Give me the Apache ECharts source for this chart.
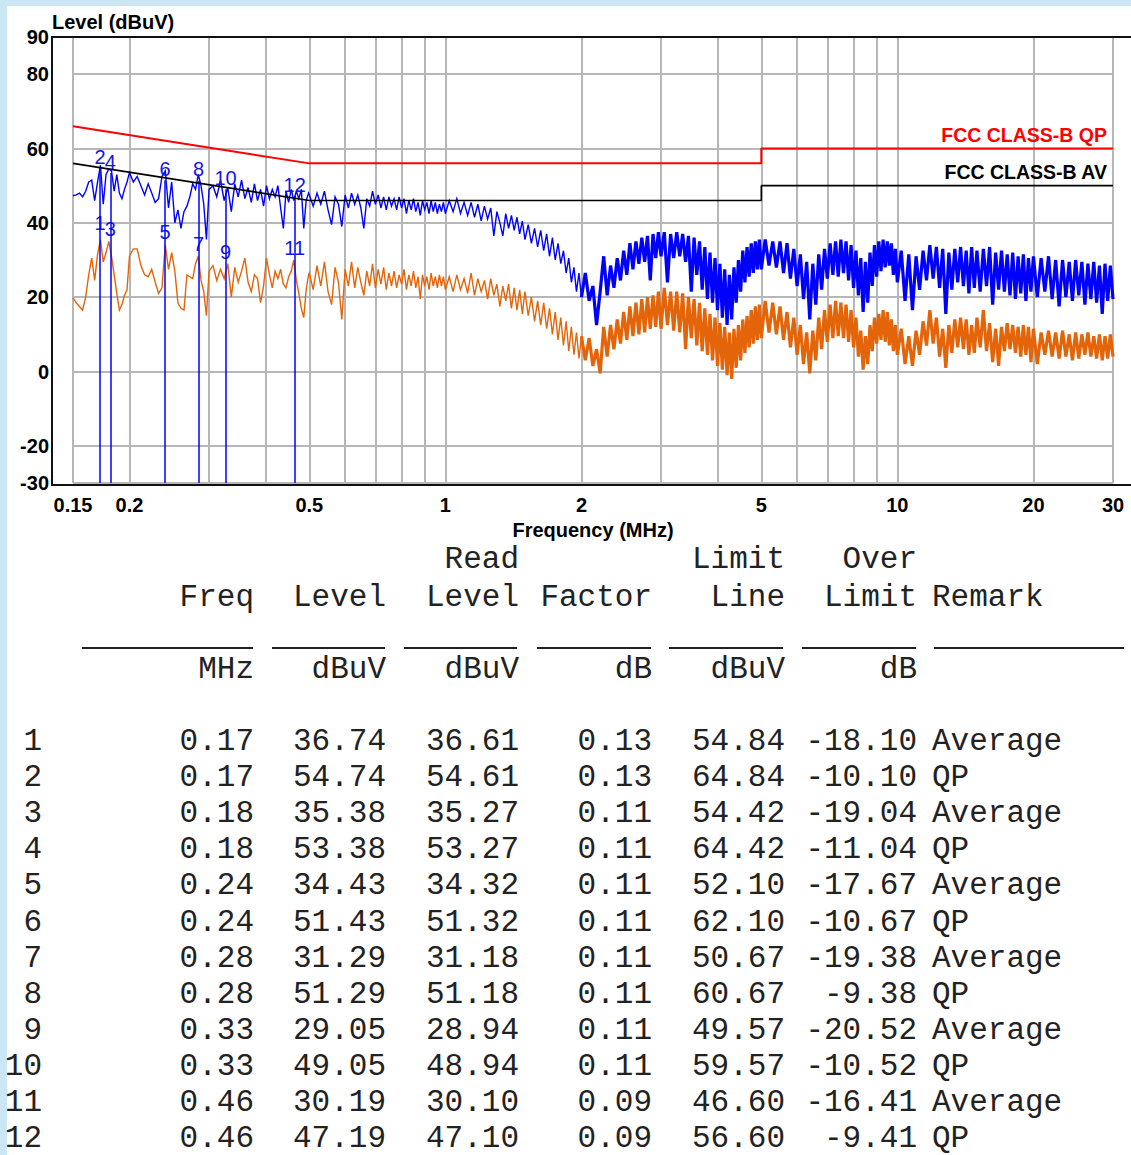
<!DOCTYPE html>
<html>
<head>
<meta charset="utf-8">
<script src="https://cdn.jsdelivr.net/npm/echarts@6/dist/echarts.min.js"></script>
<style>
  html, body { margin: 0; padding: 0; width: 1131px; height: 1155px; overflow: hidden; background: #cbe7f6; }
  #panel { position: absolute; left: 7px; top: 6px; width: 1124px; height: 1149px; background: #ffffff; }
  #chart { position: absolute; left: 0; top: 0; width: 1131px; height: 545px; }
  #table { position: absolute; left: 0; top: 0; width: 1131px; height: 1155px; }
  .tc { position: absolute; height: 36px; line-height: 36px; font-family: "Liberation Mono", monospace; font-size: 31px; color: #222; white-space: pre; }
  .ul { position: absolute; height: 2px; background: #222; }
</style>
</head>
<body>
<div id="panel"></div>
<div id="chart"></div>
<div id="table"></div>
<script>
// ---------------- data ----------------
const freqMHz = [
  0.15,0.1525,0.155,0.1575,0.16,0.1625,0.165,0.1675,0.17,0.1725,0.175,0.1775,0.18,0.1825,0.185,0.1875,0.19,0.1925,0.195,0.1975,
  0.2,0.204,0.208,0.212,0.216,0.22,0.224,0.228,0.232,0.236,0.24,0.244,0.248,0.252,0.256,0.26,0.264,0.268,0.272,0.276,0.28,0.284,0.288,0.292,0.296,
  0.3,0.306,0.312,0.318,0.324,0.33,0.336,0.342,0.348,0.354,0.36,0.366,0.372,0.378,0.384,0.39,0.396,0.402,0.408,0.414,0.42,0.426,0.432,0.438,0.444,0.45,0.456,0.462,0.468,0.474,0.48,0.486,0.492,0.498,
  0.5,0.51,0.52,0.53,0.54,0.55,0.56,0.57,0.58,0.59,0.6,0.61,0.62,0.63,0.64,0.65,0.66,0.67,0.68,0.69,0.7,0.71,0.72,0.73,0.74,0.75,0.76,0.77,0.78,0.79,0.8,0.81,0.82,0.83,0.84,0.85,0.86,0.87,0.88,0.89,0.9,0.91,0.92,0.93,0.94,0.95,0.96,0.97,0.98,0.99,
  1,1.02,1.04,1.06,1.08,1.1,1.12,1.14,1.16,1.18,1.2,1.22,1.24,1.26,1.28,1.3,1.32,1.34,1.36,1.38,1.4,1.42,1.44,1.46,1.48,
  1.5,1.525,1.55,1.575,1.6,1.625,1.65,1.675,1.7,1.725,1.75,1.775,1.8,1.825,1.85,1.875,1.9,1.925,1.95,1.975,
  2,2.04,2.08,2.12,2.16,2.2,2.24,2.28,2.32,2.36,2.4,2.44,2.48,2.52,2.56,2.6,2.64,2.68,2.72,2.76,2.8,2.84,2.88,2.92,2.96,
  3,3.05,3.1,3.15,3.2,3.25,3.3,3.35,3.4,3.45,3.5,3.55,3.6,3.65,3.7,3.75,3.8,3.85,3.9,3.95,4,4.05,4.1,4.15,4.2,4.25,4.3,4.35,4.4,4.45,4.5,4.55,4.6,4.65,4.7,4.75,4.8,4.85,4.9,4.95,
  5,5.1,5.2,5.3,5.4,5.5,5.6,5.7,5.8,5.9,6,6.1,6.2,6.3,6.4,6.5,6.6,6.7,6.8,6.9,7,7.1,7.2,7.3,7.4,7.5,7.6,7.7,7.8,7.9,8,8.1,8.2,8.3,8.4,8.5,8.6,8.7,8.8,8.9,9,9.1,9.2,9.3,9.4,9.5,9.6,9.7,9.8,9.9,
  10,10.2,10.4,10.6,10.8,11,11.2,11.4,11.6,11.8,12,12.2,12.4,12.6,12.8,13,13.2,13.4,13.6,13.8,14,14.2,14.4,14.6,14.8,
  15,15.25,15.5,15.75,16,16.25,16.5,16.75,17,17.25,17.5,17.75,18,18.25,18.5,18.75,19,19.25,19.5,19.75,
  20,20.4,20.8,21.2,21.6,22,22.4,22.8,23.2,23.6,24,24.4,24.8,25.2,25.6,26,26.4,26.8,27.2,27.6,28,28.4,28.8,29.2,29.6,30
];
// peak (QP scan) trace, dBuV
const peakLevel = [
  47.3,47.5,48.0,47.0,48.5,51.0,51.5,46.0,51.0,55.5,45.0,53.0,54.5,54.0,48.5,53.0,48.0,46.5,49.0,51.0,
  53.5,51.0,52.5,50.0,47.5,50.5,48.0,45.5,46.5,52.5,54.0,44.0,51.0,40.0,43.5,38.5,43.0,44.5,47.0,50.5,49.0,53.0,50.0,45.0,35.5,
  49.0,50.0,47.0,51.5,46.0,49.5,43.0,50.5,47.0,51.5,46.5,49.5,45.5,50.5,46.0,49.0,44.5,50.0,46.5,49.0,47.0,50.0,44.0,38.5,48.5,45.5,49.0,46.0,48.5,46.5,49.0,38.5,46.0,48.0,
  47.5,44.5,48.0,45.0,48.5,43.5,39.5,47.0,45.0,39.0,47.5,44.0,48.0,45.0,47.5,44.0,38.5,46.5,44.5,48.5,45.0,47.5,44.0,47.0,43.5,47.0,44.5,46.5,43.5,47.0,44.0,46.5,42.5,46.0,43.5,46.5,43.0,45.5,42.0,46.0,43.5,45.5,42.5,46.0,43.0,45.5,42.5,45.0,43.0,45.5,
  42.5,46.0,43.0,46.5,42.5,45.5,42.0,45.5,41.5,45.0,40.5,44.5,41.0,44.0,36.5,43.0,40.0,36.5,42.5,38.5,42.0,38.0,41.5,37.0,40.5,
  35.5,39.5,34.5,38.5,33.5,38.0,32.5,37.0,31.0,36.0,30.0,34.5,29.0,32.5,26.5,30.5,24.0,28.0,21.5,26.5,
  20.0,26.5,19.0,23.0,12.5,21.5,31.0,20.5,28.5,22.5,30.5,24.5,32.5,26.0,34.5,27.5,35.0,29.0,36.0,29.5,36.5,24.5,37.0,30.5,37.5,
  31.0,37.5,24.0,37.0,30.5,37.5,31.0,37.0,29.5,36.5,21.5,36.0,26.0,35.0,22.0,33.5,19.5,32.0,18.5,30.5,16.5,29.0,14.5,27.5,12.5,26.0,14.0,28.0,18.5,30.0,21.5,32.5,24.0,33.5,25.5,34.5,26.5,35.0,27.5,35.5,
  27.5,35.5,28.5,35.0,28.0,35.0,26.5,34.5,25.0,33.0,23.0,31.5,19.5,29.5,14.0,29.0,18.0,31.5,22.0,33.0,25.0,34.5,26.0,35.0,25.5,35.5,26.5,35.0,24.5,34.0,22.5,32.5,20.5,30.5,16.0,29.5,18.5,32.0,23.0,34.0,25.5,35.0,27.0,35.5,28.0,35.0,28.5,34.5,26.0,33.0,
  24.0,32.5,19.0,31.5,16.5,31.0,22.0,32.5,24.5,34.0,25.0,33.5,22.5,33.0,15.5,32.0,22.0,33.0,24.0,33.5,23.0,32.5,21.0,33.5,22.5,
  32.5,21.5,33.0,23.0,33.5,18.0,32.0,22.0,32.5,21.5,31.5,20.5,32.0,19.5,31.0,21.0,31.5,19.0,30.5,21.5,
  31.0,20.0,30.5,21.5,31.0,19.5,30.0,17.5,30.0,20.0,29.5,19.0,30.0,20.5,29.5,18.0,29.0,19.5,29.5,18.5,28.5,15.5,29.0,19.0,28.5,19.5
];
// average trace, dBuV
const avgLevel = [
  19.8,18.5,17.5,16.5,20.0,26.0,30.5,24.5,31.5,35.5,29.5,32.0,35.0,31.0,26.0,21.0,16.5,18.0,20.5,22.0,
  31.0,33.0,33.0,28.5,26.0,25.5,27.5,24.0,21.0,22.5,34.0,27.5,32.0,27.0,18.4,17.0,16.5,26.0,25.5,25.0,29.0,31.0,24.5,21.5,15.0,
  27.0,28.5,24.5,27.5,25.0,29.0,20.0,28.0,24.0,27.0,30.5,24.0,21.5,26.0,25.0,18.5,23.0,30.5,26.0,22.5,27.0,25.0,27.5,23.5,22.5,25.5,27.0,30.0,24.5,21.0,17.0,14.5,22.0,26.0,
  26.5,22.0,28.5,23.0,29.5,21.5,18.0,28.0,24.0,14.0,27.5,23.0,29.5,22.5,28.0,24.0,20.5,27.0,23.0,29.0,22.5,27.5,23.5,28.0,22.0,26.5,23.0,27.0,22.5,26.0,23.5,27.5,22.0,26.0,23.0,27.0,22.5,25.5,19.5,26.0,23.0,25.5,22.0,26.5,23.0,25.5,22.5,26.0,23.0,25.5,
  22.0,25.5,21.5,26.0,22.0,25.0,21.0,26.5,20.5,25.0,21.5,24.5,19.5,25.0,20.5,23.5,17.5,23.0,19.0,23.5,17.0,22.5,16.5,22.0,15.5,
  21.5,15.0,20.0,13.5,19.0,12.5,18.5,11.5,17.0,10.0,16.0,8.5,14.5,7.0,13.5,5.5,12.0,4.5,10.5,3.5,
  9.5,3.0,9.0,1.5,6.0,-0.5,12.0,4.0,12.5,6.0,14.0,7.5,16.0,8.5,17.5,9.5,18.5,10.0,19.5,10.5,20.0,11.5,20.5,12.0,21.5,
  11.5,22.5,12.5,21.5,11.0,21.5,10.5,21.0,6.0,20.0,9.0,19.5,7.0,18.5,5.5,17.0,4.5,15.5,3.0,14.5,1.5,13.0,0.5,12.0,-1.0,10.5,-2.0,11.5,1.0,12.5,3.0,14.0,5.0,15.0,6.5,16.5,7.5,17.5,8.5,18.0,
  9.0,19.0,10.5,18.5,10.0,17.5,8.5,16.0,6.5,14.5,4.5,12.5,2.0,10.5,-0.5,11.0,3.0,14.5,6.0,16.5,8.0,18.0,9.0,19.0,9.5,18.5,9.0,18.0,8.0,16.5,6.5,14.5,4.0,11.0,0.5,9.5,2.0,12.5,5.5,14.5,7.5,15.5,8.5,16.5,8.0,16.0,7.0,14.0,5.5,12.5,
  4.5,11.5,2.0,9.5,1.5,11.0,4.5,13.5,7.0,16.5,7.5,14.5,4.0,11.5,1.0,12.5,5.0,14.0,6.5,14.5,6.0,14.0,4.5,12.5,5.0,
  14.5,6.5,16.5,5.5,13.0,2.5,11.5,1.5,12.0,5.5,13.0,6.0,12.5,5.0,12.0,4.0,12.5,4.5,12.0,2.5,
  11.5,2.0,10.5,4.5,11.0,4.0,10.5,3.5,11.0,4.0,10.0,3.0,10.5,3.5,10.0,4.5,10.5,4.0,9.5,3.5,10.0,3.0,9.5,3.5,10.0,4.0
];

// limit lines
const limitFreq = [0.15, 0.5, 5, 5, 30];
const qpLimit   = [66, 56, 56, 60, 60];
const avLimit   = [56, 46, 46, 50, 50];

// axis ticks
const xLabelFreq = [0.15, 0.2, 0.5, 1, 2, 5, 10, 20, 30];
const xGridFreq  = [0.15, 0.2, 0.3, 0.4, 0.5, 0.6, 0.7, 0.8, 0.9, 1, 2, 3, 4, 5, 6, 7, 8, 9, 10, 20, 30];
const yLabelVals = [-30, -20, 0, 20, 40, 60, 80, 90];
const yGridVals  = [-30, -20, 0, 20, 40, 60, 80, 90];

// markers / result table
const markerNo    = [1, 2, 3, 4, 5, 6, 7, 8, 9, 10, 11, 12];
const markerFreq  = [0.1722, 0.1722, 0.1815, 0.1815, 0.2398, 0.2398, 0.2844, 0.2844, 0.3263, 0.3263, 0.464, 0.464];
const levelDb     = [36.74, 54.74, 35.38, 53.38, 34.43, 51.43, 31.29, 51.29, 29.05, 49.05, 30.19, 47.19];
const readLevel   = [36.61, 54.61, 35.27, 53.27, 34.32, 51.32, 31.18, 51.18, 28.94, 48.94, 30.10, 47.10];
const factorDb    = [0.13, 0.13, 0.11, 0.11, 0.11, 0.11, 0.11, 0.11, 0.11, 0.11, 0.09, 0.09];
const limitLine   = [54.84, 64.84, 54.42, 64.42, 52.10, 62.10, 50.67, 60.67, 49.57, 59.57, 46.60, 56.60];
const overLimit   = [-18.10, -10.10, -19.04, -11.04, -17.67, -10.67, -19.38, -9.38, -20.52, -10.52, -16.41, -9.41];
const remark      = ['Average', 'QP', 'Average', 'QP', 'Average', 'QP', 'Average', 'QP', 'Average', 'QP', 'Average', 'QP'];

// ---------------- chart ----------------
const LG = Math.log10;
const AX_FONT = { fontFamily: 'Liberation Sans, Arial, sans-serif', fontWeight: 'bold', fontSize: 20, color: '#000' };
const LIM_FONT = { fontFamily: 'Liberation Sans, Arial, sans-serif', fontWeight: 'bold', fontSize: 19.5 };

const markerLines = [];
markerFreq.forEach((f, i) => {
  if (remark[i] === 'QP') {
    markerLines.push([{ coord: [LG(f), -30] }, { coord: [LG(f), levelDb[i]] }]);
  }
});

// trace split: sparse low-frequency part and dense high-frequency part (same data)
const SPLIT = 2;
function tracePart(levels, lowPart) {
  const out = [];
  freqMHz.forEach((f, i) => {
    if ((lowPart && f <= SPLIT) || (!lowPart && f >= SPLIT)) out.push([LG(f), levels[i]]);
  });
  return out;
}
function traceSeries(name, levels, color, lowPart, width, z) {
  return {
    type: 'line', name: name, z: z,
    data: tracePart(levels, lowPart),
    symbol: 'none', showSymbol: false,
    lineStyle: { color: color, width: width, join: 'miter' }, itemStyle: { color: color }
  };
}
const ORANGE = '#e4640a';
const BLUE = '#0000ff';

const chart = echarts.init(document.getElementById('chart'), null, { renderer: 'svg' });
chart.setOption({
  animation: false,
  backgroundColor: 'transparent',
  title: {
    text: 'Level (dBuV)', left: 52, top: 12, padding: 0,
    textStyle: { ...AX_FONT }
  },
  grid: { left: 73, right: 18, top: 37, bottom: 62, containLabel: false, outerBoundsMode: 'none' },
  xAxis: {
    type: 'value',
    min: LG(0.15),
    max: LG(30),
    axisLine: { show: false },
    axisTick: { show: false, customValues: xGridFreq.map(LG) },
    splitLine: { show: true, lineStyle: { color: '#b7b7b7', width: 2 } },
    axisLabel: {
      customValues: xLabelFreq.map(LG),
      margin: 12,
      formatter: v => String(Math.round(Math.pow(10, v) * 100) / 100),
      ...AX_FONT
    },
    name: 'Frequency (MHz)',
    nameLocation: 'middle',
    nameGap: 33,
    nameTextStyle: { ...AX_FONT }
  },
  yAxis: {
    type: 'value',
    min: -30,
    max: 90,
    offset: 21,
    axisLine: { show: false },
    axisTick: { show: false, customValues: yGridVals },
    splitLine: { show: true, lineStyle: { color: '#b7b7b7', width: 2 } },
    axisLabel: { customValues: yLabelVals, margin: 3, ...AX_FONT }
  },
  series: [
    traceSeries('Average', avgLevel, ORANGE, true, 1.4, 2),
    traceSeries('Average', avgLevel, ORANGE, false, 3.2, 2),
    traceSeries('Peak', peakLevel, BLUE, true, 1.4, 3),
    traceSeries('Peak', peakLevel, BLUE, false, 3.2, 3),
    {
      type: 'scatter', name: 'Markers', z: 4,
      data: markerFreq.map((f, i) => ({ value: [LG(f), levelDb[i]], name: String(markerNo[i]) })),
      symbolSize: 1,
      itemStyle: { color: 'rgba(0,0,0,0)', opacity: 1 },
      label: {
        show: true, position: 'top', distance: 1, formatter: '{b}',
        fontFamily: 'Liberation Sans, Arial, sans-serif', fontSize: 20, color: '#1414e6',
        opacity: 1, textBorderWidth: 0
      },
      markLine: {
        silent: true, symbol: ['none', 'none'], animation: false,
        label: { show: false },
        lineStyle: { color: '#0000ff', width: 1.5, type: 'solid', opacity: 1 },
        data: markerLines
      }
    },
    {
      type: 'line', name: 'FCC CLASS-B QP', z: 5,
      data: limitFreq.map((f, i) => [LG(f), qpLimit[i]]),
      symbol: 'none', showSymbol: false,
      lineStyle: { color: '#ff0000', width: 2 }, itemStyle: { color: '#ff0000' },
      markPoint: {
        symbol: 'circle', symbolSize: 1, silent: true, animation: false,
        itemStyle: { color: 'rgba(0,0,0,0)' },
        label: { show: true, position: 'top', distance: 3, align: 'right', offset: [-6, 0],
                 formatter: 'FCC CLASS-B QP', ...LIM_FONT, color: '#ff0000' },
        data: [{ coord: [LG(limitFreq[limitFreq.length - 1]), qpLimit[qpLimit.length - 1]] }]
      }
    },
    {
      type: 'line', name: 'FCC CLASS-B AV', z: 5,
      data: limitFreq.map((f, i) => [LG(f), avLimit[i]]),
      symbol: 'none', showSymbol: false,
      lineStyle: { color: '#000000', width: 1.6 }, itemStyle: { color: '#000000' },
      markPoint: {
        symbol: 'circle', symbolSize: 1, silent: true, animation: false,
        itemStyle: { color: 'rgba(0,0,0,0)' },
        label: { show: true, position: 'top', distance: 3, align: 'right', offset: [-6, 0],
                 formatter: 'FCC CLASS-B AV', ...LIM_FONT, color: '#000000' },
        data: [{ coord: [LG(limitFreq[limitFreq.length - 1]), avLimit[avLimit.length - 1]] }]
      }
    }
  ],
  graphic: [
    { type: 'line', z: 100, silent: true, shape: { x1: 52, y1: 36, x2: 52, y2: 486 }, style: { stroke: '#111', lineWidth: 2 } },
    { type: 'line', z: 100, silent: true, shape: { x1: 51, y1: 37, x2: 1131, y2: 37 }, style: { stroke: '#111', lineWidth: 2 } },
    { type: 'line', z: 100, silent: true, shape: { x1: 51, y1: 485, x2: 1131, y2: 485 }, style: { stroke: '#111', lineWidth: 2 } }
  ]
});

// ---------------- table ----------------
const tbl = document.getElementById('table');
function cellR(text, rightX, cy) {
  const d = document.createElement('div');
  d.className = 'tc';
  d.style.left = (rightX - 400) + 'px';
  d.style.width = '400px';
  d.style.textAlign = 'right';
  d.style.top = (cy - 16) + 'px';
  d.textContent = text;
  tbl.appendChild(d);
}
function cellL(text, leftX, cy) {
  const d = document.createElement('div');
  d.className = 'tc';
  d.style.left = leftX + 'px';
  d.style.top = (cy - 16) + 'px';
  d.textContent = text;
  tbl.appendChild(d);
}
const colR = { no: 42, freq: 254, level: 386, read: 519, factor: 652, limit: 785, over: 917 };
const remarkX = 932;

// header rows
cellR('Read', colR.read, 558);
cellR('Limit', colR.limit, 558);
cellR('Over', colR.over, 558);
cellR('Freq', colR.freq, 596);
cellR('Level', colR.level, 596);
cellR('Level', colR.read, 596);
cellR('Factor', colR.factor, 596);
cellR('Line', colR.limit, 596);
cellR('Limit', colR.over, 596);
cellL('Remark', remarkX, 596);

// underlines
[[82, 253], [272, 385], [404, 517], [537, 651], [669, 783], [802, 916], [934, 1124]].forEach(s => {
  const u = document.createElement('div');
  u.className = 'ul';
  u.style.left = s[0] + 'px';
  u.style.width = (s[1] - s[0]) + 'px';
  u.style.top = '647px';
  tbl.appendChild(u);
});

// units
cellR('MHz', colR.freq, 668);
cellR('dBuV', colR.level, 668);
cellR('dBuV', colR.read, 668);
cellR('dB', colR.factor, 668);
cellR('dBuV', colR.limit, 668);
cellR('dB', colR.over, 668);

// rows
markerNo.forEach((n, i) => {
  const cy = 740 + 36.1 * i;
  cellR(String(n), colR.no, cy);
  cellR(markerFreq[i].toFixed(2), colR.freq, cy);
  cellR(levelDb[i].toFixed(2), colR.level, cy);
  cellR(readLevel[i].toFixed(2), colR.read, cy);
  cellR(factorDb[i].toFixed(2), colR.factor, cy);
  cellR(limitLine[i].toFixed(2), colR.limit, cy);
  cellR(overLimit[i].toFixed(2), colR.over, cy);
  cellL(remark[i], remarkX, cy);
});
</script>
</body>
</html>
